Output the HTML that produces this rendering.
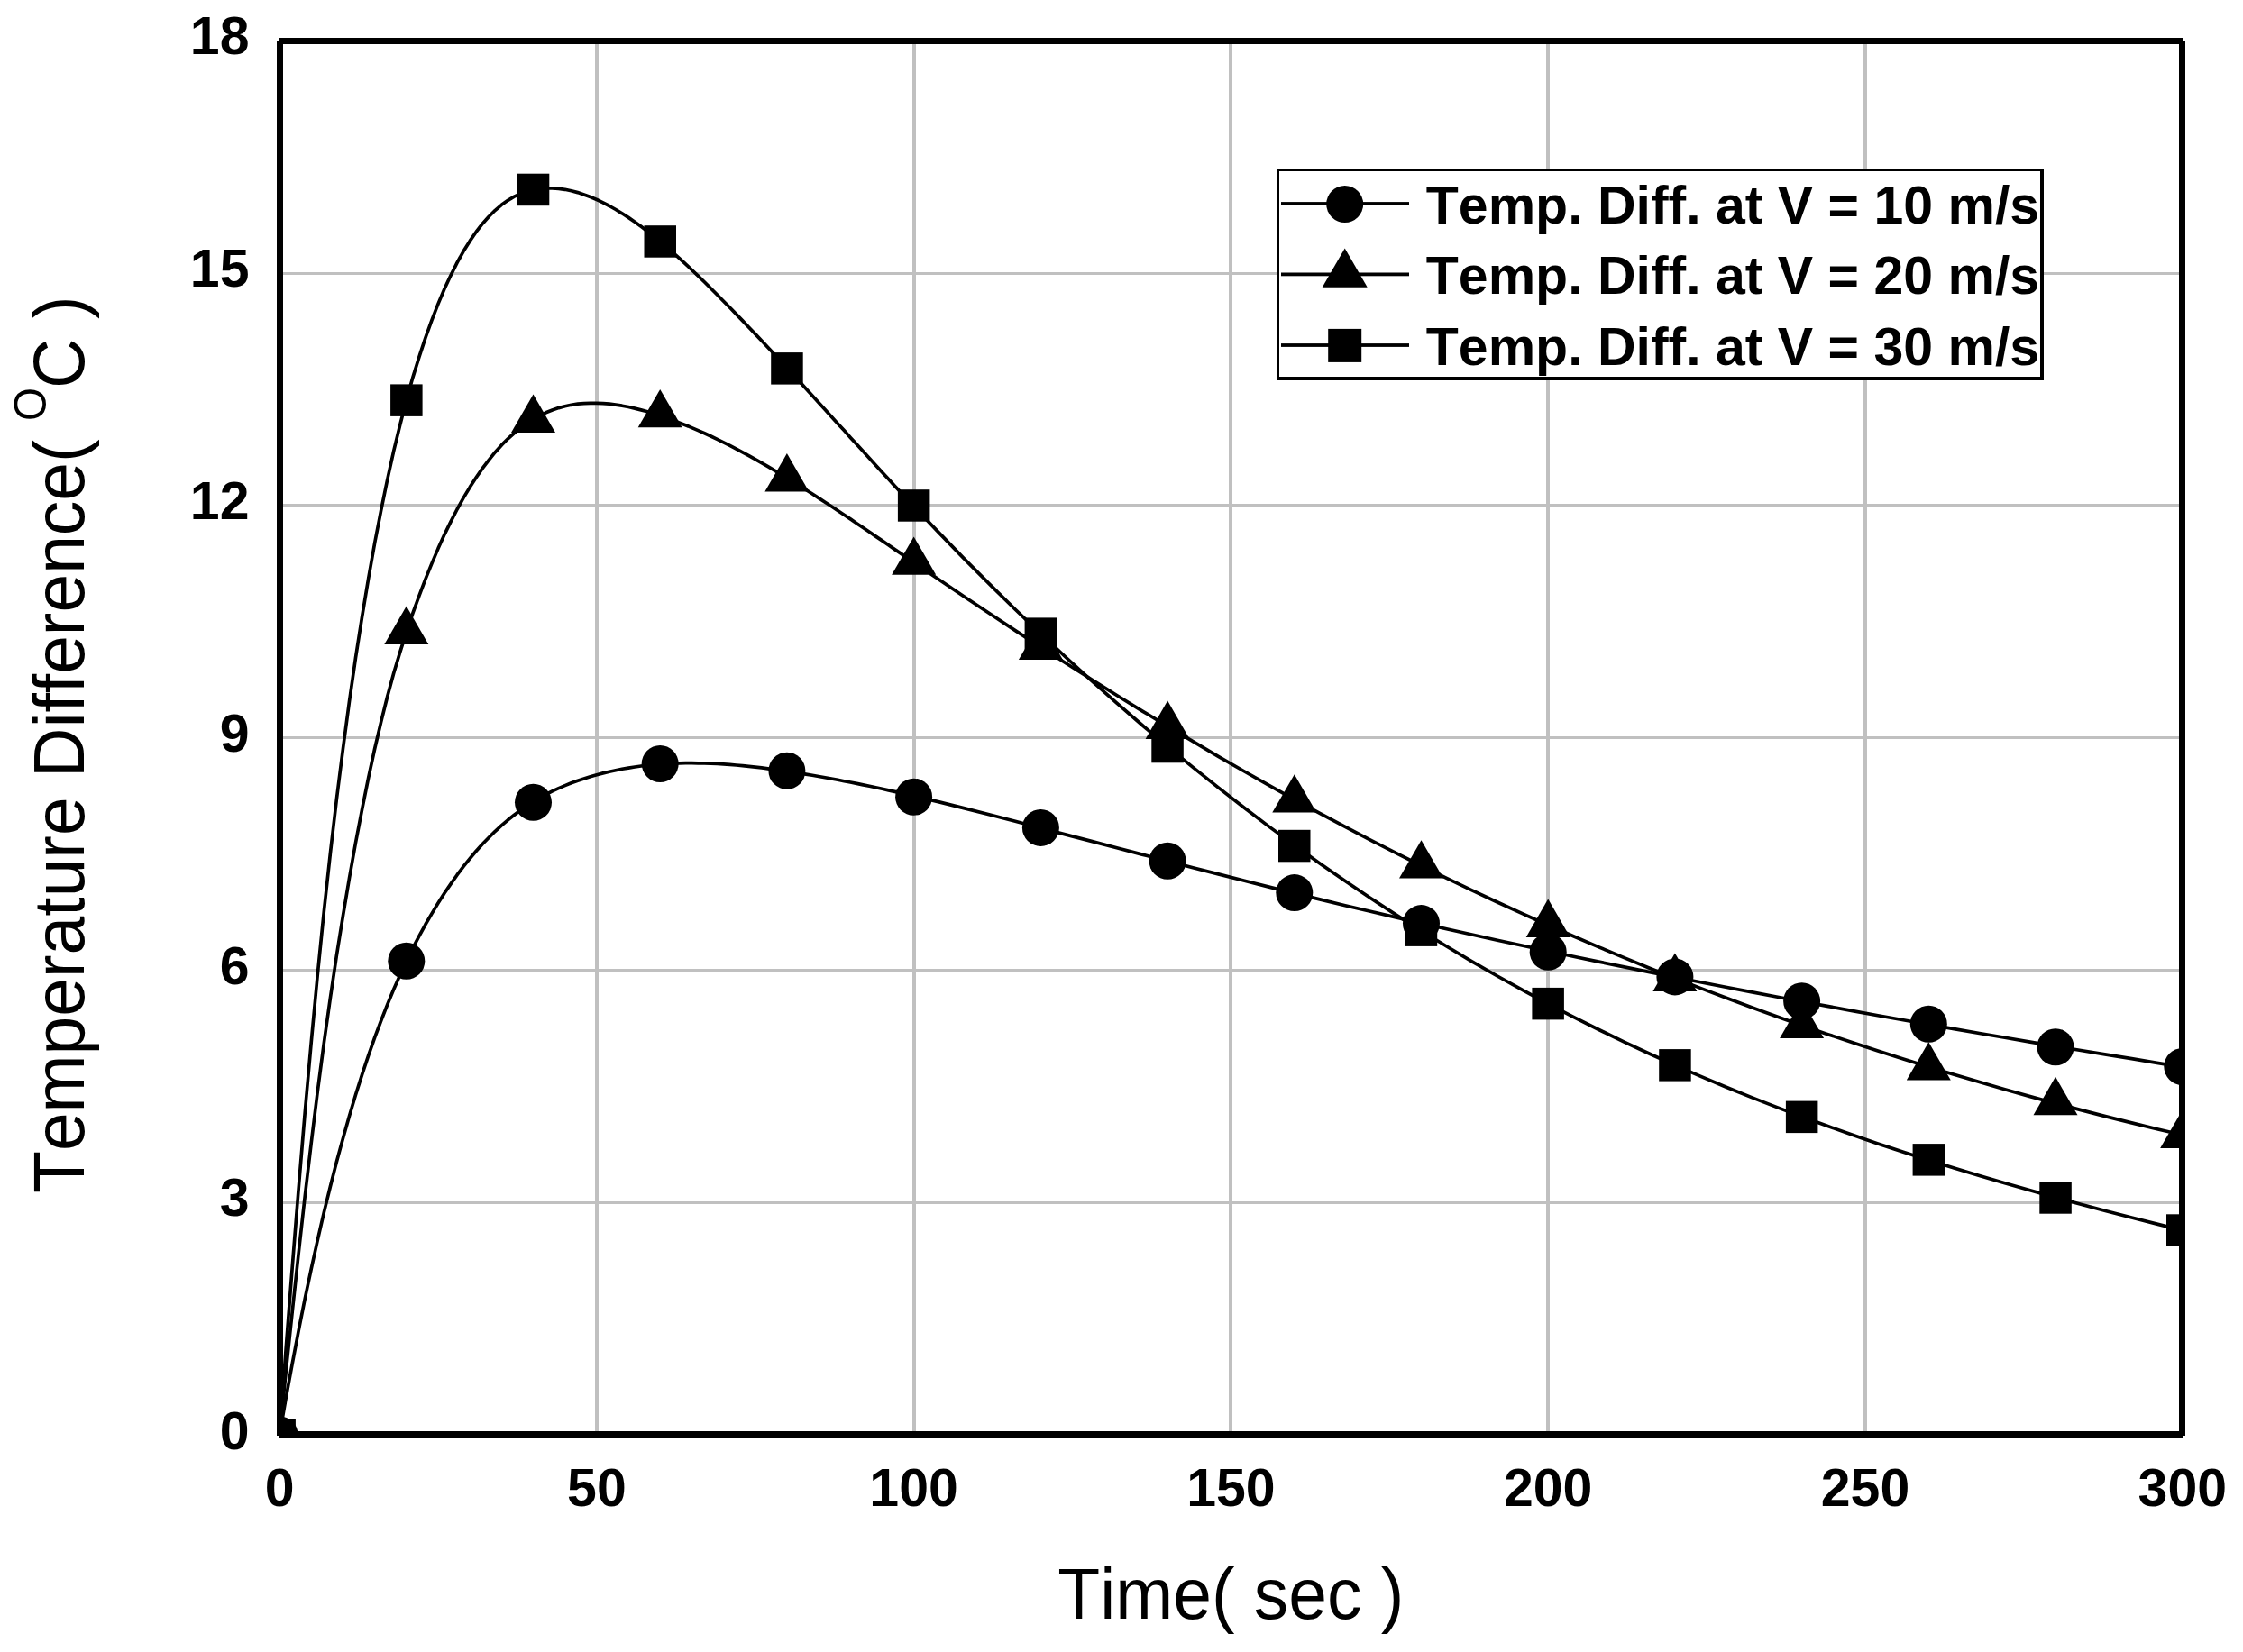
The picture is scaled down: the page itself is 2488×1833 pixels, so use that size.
<!DOCTYPE html>
<html lang="en"><head><meta charset="utf-8"><title>Temperature Difference vs Time</title>
<style>html,body{margin:0;padding:0;background:#fff}svg{display:block}text{font-kerning:none;font-family:"Liberation Sans",Arial,Helvetica,sans-serif;fill:#000}.tk{font-weight:bold;font-size:59px}.lg{font-weight:bold;font-size:59px}.ti{font-size:76.8px}</style></head><body>
<svg width="2488" height="1833" viewBox="0 0 2488 1833">
<rect width="2488" height="1833" fill="#fff"/>
<defs><clipPath id="pc"><rect x="310.5" y="45.5" width="2110" height="1546.5"/></clipPath></defs>
<g fill="#c0c0c0"><rect x="660" y="46" width="4" height="1546"/><rect x="1012" y="46" width="4" height="1546"/><rect x="1363" y="46" width="4" height="1546"/><rect x="1715" y="46" width="4" height="1546"/><rect x="2067" y="46" width="4" height="1546"/><rect x="311" y="1333" width="2109" height="3"/><rect x="311" y="1075" width="2109" height="3"/><rect x="311" y="817" width="2109" height="3"/><rect x="311" y="559" width="2109" height="3"/><rect x="311" y="302" width="2109" height="3"/></g>
<g clip-path="url(#pc)">
<path d="M310.1,1592.0 L317.1,1551.6 L324.2,1513.1 L331.2,1476.3 L338.2,1441.2 L345.3,1407.7 L352.3,1375.8 L359.3,1345.4 L366.4,1316.5 L373.4,1289.0 L380.5,1262.9 L387.5,1238.2 L394.5,1214.7 L401.6,1192.4 L408.6,1171.4 L415.6,1151.4 L422.7,1132.5 L429.7,1114.6 L436.7,1097.7 L443.8,1081.7 L450.8,1066.5 L457.8,1052.2 L464.9,1038.6 L471.9,1025.8 L479.0,1013.6 L486.0,1002.0 L493.0,991.0 L500.1,980.6 L507.1,970.7 L514.1,961.4 L521.2,952.6 L528.2,944.3 L535.2,936.5 L542.3,929.2 L549.3,922.3 L556.3,915.8 L563.4,909.8 L570.4,904.2 L577.4,899.0 L584.5,894.1 L591.5,889.6 L598.6,885.4 L605.6,881.5 L612.6,877.9 L619.7,874.6 L626.7,871.6 L633.7,868.8 L640.8,866.2 L647.8,863.9 L654.8,861.7 L661.9,859.7 L668.9,857.9 L675.9,856.2 L683.0,854.7 L690.0,853.3 L697.1,852.1 L704.1,851.0 L711.1,850.0 L718.2,849.2 L725.2,848.5 L732.2,847.9 L739.3,847.5 L746.3,847.1 L753.3,846.9 L760.4,846.7 L767.4,846.7 L774.4,846.8 L781.5,846.9 L788.5,847.2 L795.5,847.5 L802.6,847.9 L809.6,848.4 L816.7,849.0 L823.7,849.6 L830.7,850.3 L837.8,851.1 L844.8,851.9 L851.8,852.8 L858.9,853.8 L865.9,854.8 L872.9,855.8 L880.0,856.8 L887.0,857.9 L894.0,859.1 L901.1,860.3 L908.1,861.5 L915.2,862.7 L922.2,864.0 L929.2,865.3 L936.3,866.7 L943.3,868.0 L950.3,869.4 L957.4,870.9 L964.4,872.3 L971.4,873.8 L978.5,875.3 L985.5,876.9 L992.5,878.4 L999.6,880.0 L1006.6,881.6 L1013.6,883.2 L1041.8,889.9 L1069.9,896.9 L1098.1,904.0 L1126.2,911.3 L1154.4,918.7 L1182.5,926.1 L1210.6,933.4 L1238.8,940.8 L1266.9,948.1 L1295.1,955.4 L1323.2,962.7 L1351.4,969.9 L1379.5,977.0 L1407.6,984.1 L1435.8,991.1 L1463.9,997.9 L1492.1,1004.7 L1520.2,1011.3 L1548.3,1017.9 L1576.5,1024.4 L1604.6,1030.7 L1632.8,1037.0 L1660.9,1043.2 L1689.1,1049.3 L1717.2,1055.3 L1745.3,1061.3 L1773.5,1067.1 L1801.6,1072.9 L1829.8,1078.6 L1857.9,1084.2 L1886.1,1089.8 L1914.2,1095.2 L1942.3,1100.6 L1970.5,1106.0 L1998.6,1111.2 L2026.8,1116.4 L2054.9,1121.6 L2083.0,1126.7 L2111.2,1131.7 L2139.3,1136.7 L2167.5,1141.6 L2195.6,1146.5 L2223.8,1151.3 L2251.9,1156.1 L2280.0,1160.8 L2308.2,1165.5 L2336.3,1170.1 L2364.5,1174.7 L2392.6,1179.3 L2420.8,1183.8" fill="none" stroke="#000" stroke-width="3.7" stroke-linejoin="round"/>
<g fill="#000"><circle cx="310.1" cy="1592.0" r="20.5"/><circle cx="450.8" cy="1066.3" r="20.5"/><circle cx="591.5" cy="890.3" r="20.5"/><circle cx="732.2" cy="847.5" r="20.5"/><circle cx="872.9" cy="855.3" r="20.5"/><circle cx="1013.6" cy="884.2" r="20.5"/><circle cx="1154.4" cy="918.4" r="20.5"/><circle cx="1295.1" cy="955.3" r="20.5"/><circle cx="1435.8" cy="990.6" r="20.5"/><circle cx="1576.5" cy="1024.6" r="20.5"/><circle cx="1717.2" cy="1056.2" r="20.5"/><circle cx="1857.9" cy="1083.9" r="20.5"/><circle cx="1998.6" cy="1110.8" r="20.5"/><circle cx="2139.3" cy="1136.2" r="20.5"/><circle cx="2280.0" cy="1161.7" r="20.5"/><circle cx="2420.8" cy="1183.5" r="20.5"/></g>
<path d="M310.1,1592.0 L317.1,1522.9 L324.2,1455.6 L331.2,1390.3 L338.2,1327.6 L345.3,1267.6 L352.3,1210.8 L359.3,1157.4 L366.4,1107.2 L373.4,1060.1 L380.5,1015.9 L387.5,974.2 L394.5,935.0 L401.6,898.1 L408.6,863.4 L415.6,831.0 L422.7,800.8 L429.7,772.8 L436.7,747.0 L443.8,723.4 L450.8,701.4 L457.8,680.7 L464.9,661.1 L471.9,642.6 L479.0,625.1 L486.0,608.6 L493.0,593.1 L500.1,578.6 L507.1,565.0 L514.1,552.4 L521.2,540.6 L528.2,529.7 L535.2,519.6 L542.3,510.3 L549.3,501.7 L556.3,493.9 L563.4,486.8 L570.4,480.5 L577.4,474.7 L584.5,469.6 L591.5,465.1 L598.6,461.2 L605.6,457.8 L612.6,455.0 L619.7,452.6 L626.7,450.7 L633.7,449.3 L640.8,448.2 L647.8,447.6 L654.8,447.3 L661.9,447.3 L668.9,447.6 L675.9,448.2 L683.0,449.1 L690.0,450.2 L697.1,451.5 L704.1,453.1 L711.1,454.9 L718.2,456.8 L725.2,459.0 L732.2,461.2 L739.3,463.7 L746.3,466.2 L753.3,468.9 L760.4,471.7 L767.4,474.6 L774.4,477.6 L781.5,480.8 L788.5,484.0 L795.5,487.4 L802.6,490.8 L809.6,494.4 L816.7,498.1 L823.7,501.8 L830.7,505.7 L837.8,509.6 L844.8,513.6 L851.8,517.7 L858.9,521.8 L865.9,526.0 L872.9,530.3 L880.0,534.7 L887.0,539.1 L894.0,543.5 L901.1,548.0 L908.1,552.6 L915.2,557.2 L922.2,561.8 L929.2,566.5 L936.3,571.2 L943.3,575.9 L950.3,580.7 L957.4,585.5 L964.4,590.3 L971.4,595.1 L978.5,599.9 L985.5,604.8 L992.5,609.6 L999.6,614.4 L1006.6,619.3 L1013.6,624.1 L1041.8,643.3 L1069.9,662.2 L1098.1,681.0 L1126.2,699.6 L1154.4,717.9 L1182.5,736.0 L1210.6,753.8 L1238.8,771.5 L1266.9,788.8 L1295.1,805.9 L1323.2,822.7 L1351.4,839.3 L1379.5,855.5 L1407.6,871.4 L1435.8,887.1 L1463.9,902.4 L1492.1,917.4 L1520.2,932.1 L1548.3,946.4 L1576.5,960.5 L1604.6,974.3 L1632.8,987.8 L1660.9,1001.0 L1689.1,1013.9 L1717.2,1026.5 L1745.3,1038.8 L1773.5,1050.9 L1801.6,1062.6 L1829.8,1074.2 L1857.9,1085.4 L1886.1,1096.4 L1914.2,1107.1 L1942.3,1117.5 L1970.5,1127.7 L1998.6,1137.7 L2026.8,1147.4 L2054.9,1156.8 L2083.0,1166.1 L2111.2,1175.0 L2139.3,1183.8 L2167.5,1192.3 L2195.6,1200.6 L2223.8,1208.7 L2251.9,1216.6 L2280.0,1224.2 L2308.2,1231.6 L2336.3,1238.9 L2364.5,1245.9 L2392.6,1252.7 L2420.8,1259.3" fill="none" stroke="#000" stroke-width="3.7" stroke-linejoin="round"/>
<g fill="#000"><polygon points="310.1,1563.7 334.6,1606.2 285.6,1606.2"/><polygon points="450.8,672.5 475.3,715.0 426.3,715.0"/><polygon points="591.5,437.5 616.0,479.9 567.0,479.9"/><polygon points="732.2,431.9 756.7,474.3 707.7,474.3"/><polygon points="872.9,503.1 897.4,545.6 848.4,545.6"/><polygon points="1013.6,595.4 1038.2,637.8 989.1,637.8"/><polygon points="1154.4,689.5 1178.9,731.9 1129.9,731.9"/><polygon points="1295.1,777.5 1319.6,820.0 1270.6,820.0"/><polygon points="1435.8,859.2 1460.3,901.6 1411.3,901.6"/><polygon points="1576.5,932.2 1601.0,974.6 1552.0,974.6"/><polygon points="1717.2,997.4 1741.7,1039.9 1692.7,1039.9"/><polygon points="1857.9,1057.6 1882.4,1100.1 1833.4,1100.1"/><polygon points="1998.6,1109.4 2023.1,1151.9 1974.1,1151.9"/><polygon points="2139.3,1156.2 2163.8,1198.6 2114.8,1198.6"/><polygon points="2280.0,1194.8 2304.5,1237.2 2255.5,1237.2"/><polygon points="2420.8,1231.4 2445.3,1273.9 2396.2,1273.9"/></g>
<path d="M310.1,1592.0 L317.1,1497.5 L324.2,1406.2 L331.2,1318.5 L338.2,1234.9 L345.3,1155.6 L352.3,1081.1 L359.3,1011.6 L366.4,946.8 L373.4,886.6 L380.5,830.5 L387.5,778.3 L394.5,729.7 L401.6,684.4 L408.6,642.2 L415.6,602.8 L422.7,566.1 L429.7,532.0 L436.7,500.4 L443.8,471.2 L450.8,444.1 L457.8,419.1 L464.9,396.1 L471.9,374.8 L479.0,355.2 L486.0,337.1 L493.0,320.5 L500.1,305.3 L507.1,291.4 L514.1,278.8 L521.2,267.4 L528.2,257.2 L535.2,248.2 L542.3,240.2 L549.3,233.3 L556.3,227.3 L563.4,222.3 L570.4,218.2 L577.4,214.8 L584.5,212.3 L591.5,210.5 L598.6,209.3 L605.6,208.8 L612.6,208.8 L619.7,209.3 L626.7,210.3 L633.7,211.8 L640.8,213.6 L647.8,215.9 L654.8,218.5 L661.9,221.5 L668.9,224.8 L675.9,228.5 L683.0,232.5 L690.0,236.8 L697.1,241.4 L704.1,246.2 L711.1,251.3 L718.2,256.7 L725.2,262.2 L732.2,268.0 L739.3,274.0 L746.3,280.1 L753.3,286.4 L760.4,292.9 L767.4,299.5 L774.4,306.2 L781.5,313.0 L788.5,320.0 L795.5,327.0 L802.6,334.2 L809.6,341.3 L816.7,348.6 L823.7,355.9 L830.7,363.2 L837.8,370.6 L844.8,378.1 L851.8,385.6 L858.9,393.1 L865.9,400.7 L872.9,408.3 L880.0,415.9 L887.0,423.6 L894.0,431.3 L901.1,439.0 L908.1,446.7 L915.2,454.4 L922.2,462.2 L929.2,469.9 L936.3,477.6 L943.3,485.4 L950.3,493.1 L957.4,500.8 L964.4,508.5 L971.4,516.2 L978.5,523.9 L985.5,531.5 L992.5,539.2 L999.6,546.7 L1006.6,554.3 L1013.6,561.8 L1041.8,591.4 L1069.9,620.4 L1098.1,648.6 L1126.2,676.2 L1154.4,703.2 L1182.5,729.5 L1210.6,755.1 L1238.8,780.1 L1266.9,804.5 L1295.1,828.3 L1323.2,851.4 L1351.4,873.9 L1379.5,895.8 L1407.6,917.1 L1435.8,937.8 L1463.9,958.0 L1492.1,977.5 L1520.2,996.5 L1548.3,1014.9 L1576.5,1032.8 L1604.6,1050.0 L1632.8,1066.8 L1660.9,1083.0 L1689.1,1098.6 L1717.2,1113.8 L1745.3,1128.4 L1773.5,1142.5 L1801.6,1156.1 L1829.8,1169.2 L1857.9,1181.9 L1886.1,1194.1 L1914.2,1206.0 L1942.3,1217.4 L1970.5,1228.4 L1998.6,1239.0 L2026.8,1249.3 L2054.9,1259.3 L2083.0,1268.9 L2111.2,1278.2 L2139.3,1287.2 L2167.5,1296.0 L2195.6,1304.5 L2223.8,1312.7 L2251.9,1320.8 L2280.0,1328.6 L2308.2,1336.2 L2336.3,1343.7 L2364.5,1351.0 L2392.6,1358.1 L2420.8,1365.2" fill="none" stroke="#000" stroke-width="3.7" stroke-linejoin="round"/>
<g fill="#000"><rect x="292.4" y="1574.2" width="35.5" height="35.5"/><rect x="433.1" y="426.4" width="35.5" height="35.5"/><rect x="573.8" y="192.7" width="35.5" height="35.5"/><rect x="714.5" y="250.2" width="35.5" height="35.5"/><rect x="855.2" y="391.1" width="35.5" height="35.5"/><rect x="995.9" y="543.2" width="35.5" height="35.5"/><rect x="1136.6" y="685.4" width="35.5" height="35.5"/><rect x="1277.3" y="810.8" width="35.5" height="35.5"/><rect x="1418.0" y="920.8" width="35.5" height="35.5"/><rect x="1558.7" y="1014.4" width="35.5" height="35.5"/><rect x="1699.4" y="1095.9" width="35.5" height="35.5"/><rect x="1840.2" y="1164.1" width="35.5" height="35.5"/><rect x="1980.9" y="1221.6" width="35.5" height="35.5"/><rect x="2121.6" y="1269.1" width="35.5" height="35.5"/><rect x="2262.3" y="1311.2" width="35.5" height="35.5"/><rect x="2403.0" y="1347.3" width="35.5" height="35.5"/></g>
</g>
<g fill="#000" shape-rendering="crispEdges"><rect x="307" y="45" width="7" height="1548"/><rect x="2417" y="45" width="7" height="1548"/><rect x="310" y="42" width="2111" height="7"/><rect x="310" y="1588" width="2111" height="8"/></g>
<text class="tk" x="310.1" y="1670.8" text-anchor="middle">0</text>
<text class="tk" x="661.9" y="1670.8" text-anchor="middle">50</text>
<text class="tk" x="1013.6" y="1670.8" text-anchor="middle">100</text>
<text class="tk" x="1365.4" y="1670.8" text-anchor="middle">150</text>
<text class="tk" x="1717.2" y="1670.8" text-anchor="middle">200</text>
<text class="tk" x="2069.0" y="1670.8" text-anchor="middle">250</text>
<text class="tk" x="2420.8" y="1670.8" text-anchor="middle">300</text>
<text class="tk" x="276.5" y="1607.8" text-anchor="end">0</text>
<text class="tk" x="276.5" y="1349.2" text-anchor="end">3</text>
<text class="tk" x="276.5" y="1091.5" text-anchor="end">6</text>
<text class="tk" x="276.5" y="833.7" text-anchor="end">9</text>
<text class="tk" x="276.5" y="576.0" text-anchor="end">12</text>
<text class="tk" x="276.5" y="318.2" text-anchor="end">15</text>
<text class="tk" x="276.5" y="60.4" text-anchor="end">18</text>
<rect x="1416" y="187" width="851" height="235" fill="#000"/><rect x="1419" y="190" width="844" height="228" fill="#fff"/>
<rect x="1421" y="224.1" width="142" height="3.8" fill="#000"/>
<circle cx="1491.7" cy="226.5" r="20.5"/>
<text class="lg" x="1581.8" y="247.9">Temp. Diff. at V = 10 m/s</text>
<rect x="1421" y="302.5" width="142" height="3.8" fill="#000"/>
<polygon points="1491.7,275.5 1516.7,318.8 1466.7,318.8"/>
<text class="lg" x="1581.8" y="325.7">Temp. Diff. at V = 20 m/s</text>
<rect x="1421" y="381.1" width="142" height="3.8" fill="#000"/>
<rect x="1473.2" y="364.9" width="37.0" height="37.0"/>
<text class="lg" x="1581.8" y="404.9">Temp. Diff. at V = 30 m/s</text>
<text class="ti" transform="translate(1365.3,1796.3) scale(1,1.03)" text-anchor="middle">Time( sec )</text>
<g transform="translate(93.3,0) rotate(-90) scale(1,1.03)"><text class="ti" x="-1324" y="0">Temperature Difference(</text><text class="ti" x="-467" y="-41.2" style="font-size:47.6px">O</text><text class="ti" x="-430.9" y="0">C )</text></g>
</svg></body></html>
